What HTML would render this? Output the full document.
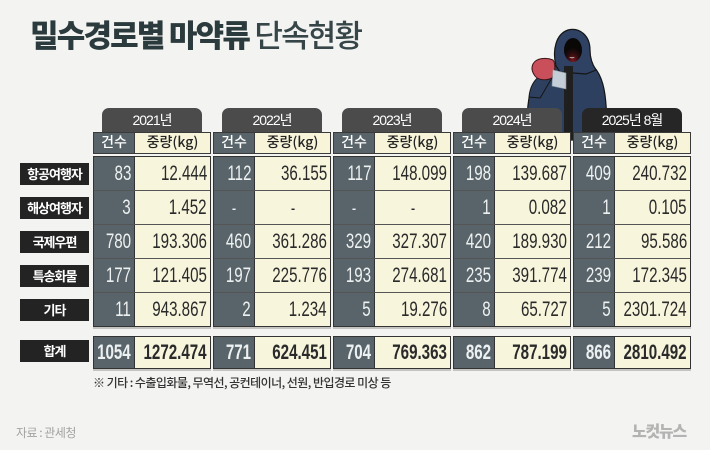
<!DOCTYPE html>
<html><head><meta charset="utf-8">
<style>
*{margin:0;padding:0;box-sizing:border-box}
body{width:710px;height:450px;overflow:hidden;background:#f3f3f1;font-family:"Liberation Sans","Noto Sans CJK KR",sans-serif;position:relative}
.title{position:absolute;left:30px;top:18px;font-size:31px;line-height:32px;letter-spacing:-1.8px;color:#2b3a3c;font-weight:900;font-family:"Noto Sans CJK KR",sans-serif;white-space:nowrap}
.title span{font-weight:500;color:#364648}
.lbl{position:absolute;left:20px;width:69px;height:22px;background:#232323;color:#fff;font-size:13px;font-weight:700;letter-spacing:-1px;text-align:center;line-height:22px;font-family:"Noto Sans CJK KR",sans-serif}
.g{position:absolute;top:0;width:118px;height:380px;z-index:2}
.tab{position:absolute;left:9px;top:108px;width:100px;height:24px;border-radius:7px 7px 0 0;background:#4b4b4b;color:#fff;text-align:center;line-height:25px;font-size:14px;letter-spacing:-1px;font-family:"Liberation Sans","Noto Sans CJK KR",sans-serif}
.tab.dk{background:#262626}
.hd{position:absolute;left:0;top:132px;width:118px;height:22px;border:1.5px solid #3a3a3a;display:flex;font-family:"Noto Sans CJK KR",sans-serif;font-size:14px;font-weight:500;line-height:19px;text-align:center}
.hd .c{width:41px;background:#58646a;color:#fff;border-right:1.5px solid #3a3a3a}
.hd .w{flex:1;background:#f7f4da;color:#222}
.bx{position:absolute;left:0;width:118px;border:1.5px solid #333;display:flex;flex-direction:column;box-shadow:0 2px 0 #c4c4c0}
.b1{top:156px;height:171px}
.b2{top:336px;height:33px}
.r{flex:1;display:flex;border-top:1px solid #555}
.r:first-child{border-top:none}
.r .c{width:41px;background:#58646a;color:#eef1f1;border-right:1.5px solid #333;position:relative}
.r .w{flex:1;background:#f7f5dc;color:#2a2a2a;position:relative}
.n{position:absolute;right:3px;top:50%;font-size:21px;line-height:22px;white-space:nowrap;transform:translateY(-50%) scaleX(.72);transform-origin:100% 50%}
.d .n{right:auto;left:50%;transform:translate(-50%,-50%) scaleX(.72);transform-origin:50% 50%;font-size:18px}
.b2 .n{font-weight:700}
.note{position:absolute;left:93px;top:374px;font-size:12px;letter-spacing:-0.55px;color:#333;font-family:"Noto Sans CJK KR",sans-serif;white-space:nowrap;line-height:18px;font-weight:500}
.src{position:absolute;left:16px;top:424px;font-size:12px;letter-spacing:-0.5px;color:#a3a3a3;font-family:"Noto Sans CJK KR",sans-serif;white-space:nowrap;line-height:17px}
.logo{position:absolute;left:632px;top:420px;font-size:16px;letter-spacing:-1.2px;color:#b3b3b3;font-weight:900;font-family:"Noto Sans CJK KR",sans-serif;white-space:nowrap;line-height:20px}
svg.fig{position:absolute;left:0;top:0;z-index:1}
</style></head>
<body>
<svg class="fig" width="710" height="450" viewBox="0 0 710 450">
  <defs>
    <radialGradient id="fg" cx="0.5" cy="0.95" r="0.55">
      <stop offset="0" stop-color="#7a1820"/>
      <stop offset="0.6" stop-color="#2a0c0e"/>
      <stop offset="1" stop-color="#0a0707"/>
    </radialGradient>
  </defs>
  <!-- body -->
  <path d="M528,135 C526,115 528,95 533,85 C538,76 548,70 558,64 L588,62 C598,68 603,80 605,95 C607,110 607,125 606,140 L528,140 Z" fill="#2e4060" stroke="#151515" stroke-width="1.2"/>
  <!-- hood -->
  <path d="M556,66 C552,50 556,34 568,30 C580,27 590,36 590,50 C590,58 592,64 596,70 L586,74 L560,72 Z" fill="#2f4263" stroke="#151515" stroke-width="1.2"/>
  <!-- face -->
  <ellipse cx="573" cy="50" rx="9" ry="12" fill="url(#fg)"/>
  <path d="M569,57 Q572,59.5 575,57 Q572,58 569,57 Z" fill="#fff"/>
  <!-- shirt -->
  <rect x="564" y="66" width="9" height="74" fill="#1f1f1f"/>
  <!-- arm -->
  <path d="M529,97 C530,86 535,79 541,75 L552,78 C548,84 544,92 540,98 Z" fill="#2e4060" stroke="#151515" stroke-width="1"/>
  <!-- fist -->
  <path d="M533,64 C536,58 546,57 553,60 C556,64 555,74 552,78 C546,81 538,80 535,76 C532,72 531,68 533,64 Z" fill="#c9505a" stroke="#3a1518" stroke-width="1"/>
  <!-- bag -->
  <polygon points="553,70 566,73 566,89 552,86" fill="#dfe7ef" opacity="0.85" stroke="#9aa8b6" stroke-width="0.6"/>
</svg>

<div class="title">밀수경로별 마약류 <span>단속현황</span></div>

<div class="lbl" style="top:163px">항공여행자</div>
<div class="lbl" style="top:197px">해상여행자</div>
<div class="lbl" style="top:231px">국제우편</div>
<div class="lbl" style="top:265px">특송화물</div>
<div class="lbl" style="top:299px">기타</div>
<div class="lbl" style="top:340px">합계</div>

<div class="g" style="left:93px">
  <div class="tab">2021년</div>
  <div class="hd"><div class="c">건수</div><div class="w">중량(kg)</div></div>
  <div class="bx b1">
    <div class="r"><div class="c"><span class="n">83</span></div><div class="w"><span class="n">12.444</span></div></div>
    <div class="r"><div class="c"><span class="n">3</span></div><div class="w"><span class="n">1.452</span></div></div>
    <div class="r"><div class="c"><span class="n">780</span></div><div class="w"><span class="n">193.306</span></div></div>
    <div class="r"><div class="c"><span class="n">177</span></div><div class="w"><span class="n">121.405</span></div></div>
    <div class="r"><div class="c"><span class="n">11</span></div><div class="w"><span class="n">943.867</span></div></div>
  </div>
  <div class="bx b2"><div class="r"><div class="c"><span class="n">1054</span></div><div class="w"><span class="n">1272.474</span></div></div></div>
</div>

<div class="g" style="left:213px">
  <div class="tab">2022년</div>
  <div class="hd"><div class="c">건수</div><div class="w">중량(kg)</div></div>
  <div class="bx b1">
    <div class="r"><div class="c"><span class="n">112</span></div><div class="w"><span class="n">36.155</span></div></div>
    <div class="r"><div class="c d"><span class="n">-</span></div><div class="w d"><span class="n">-</span></div></div>
    <div class="r"><div class="c"><span class="n">460</span></div><div class="w"><span class="n">361.286</span></div></div>
    <div class="r"><div class="c"><span class="n">197</span></div><div class="w"><span class="n">225.776</span></div></div>
    <div class="r"><div class="c"><span class="n">2</span></div><div class="w"><span class="n">1.234</span></div></div>
  </div>
  <div class="bx b2"><div class="r"><div class="c"><span class="n">771</span></div><div class="w"><span class="n">624.451</span></div></div></div>
</div>

<div class="g" style="left:333px">
  <div class="tab">2023년</div>
  <div class="hd"><div class="c">건수</div><div class="w">중량(kg)</div></div>
  <div class="bx b1">
    <div class="r"><div class="c"><span class="n">117</span></div><div class="w"><span class="n">148.099</span></div></div>
    <div class="r"><div class="c d"><span class="n">-</span></div><div class="w d"><span class="n">-</span></div></div>
    <div class="r"><div class="c"><span class="n">329</span></div><div class="w"><span class="n">327.307</span></div></div>
    <div class="r"><div class="c"><span class="n">193</span></div><div class="w"><span class="n">274.681</span></div></div>
    <div class="r"><div class="c"><span class="n">5</span></div><div class="w"><span class="n">19.276</span></div></div>
  </div>
  <div class="bx b2"><div class="r"><div class="c"><span class="n">704</span></div><div class="w"><span class="n">769.363</span></div></div></div>
</div>

<div class="g" style="left:453px">
  <div class="tab">2024년</div>
  <div class="hd"><div class="c">건수</div><div class="w">중량(kg)</div></div>
  <div class="bx b1">
    <div class="r"><div class="c"><span class="n">198</span></div><div class="w"><span class="n">139.687</span></div></div>
    <div class="r"><div class="c"><span class="n">1</span></div><div class="w"><span class="n">0.082</span></div></div>
    <div class="r"><div class="c"><span class="n">420</span></div><div class="w"><span class="n">189.930</span></div></div>
    <div class="r"><div class="c"><span class="n">235</span></div><div class="w"><span class="n">391.774</span></div></div>
    <div class="r"><div class="c"><span class="n">8</span></div><div class="w"><span class="n">65.727</span></div></div>
  </div>
  <div class="bx b2"><div class="r"><div class="c"><span class="n">862</span></div><div class="w"><span class="n">787.199</span></div></div></div>
</div>

<div class="g" style="left:573px">
  <div class="tab dk">2025년 8월</div>
  <div class="hd"><div class="c">건수</div><div class="w">중량(kg)</div></div>
  <div class="bx b1">
    <div class="r"><div class="c"><span class="n">409</span></div><div class="w"><span class="n">240.732</span></div></div>
    <div class="r"><div class="c"><span class="n">1</span></div><div class="w"><span class="n">0.105</span></div></div>
    <div class="r"><div class="c"><span class="n">212</span></div><div class="w"><span class="n">95.586</span></div></div>
    <div class="r"><div class="c"><span class="n">239</span></div><div class="w"><span class="n">172.345</span></div></div>
    <div class="r"><div class="c"><span class="n">5</span></div><div class="w"><span class="n">2301.724</span></div></div>
  </div>
  <div class="bx b2"><div class="r"><div class="c"><span class="n">866</span></div><div class="w"><span class="n">2810.492</span></div></div></div>
</div>

<div class="note">※ 기타 : 수출입화물, 무역선, 공컨테이너, 선원, 반입경로 미상 등</div>
<div class="src">자료 : 관세청</div>
<div class="logo">노컷뉴스</div>
</body></html>
